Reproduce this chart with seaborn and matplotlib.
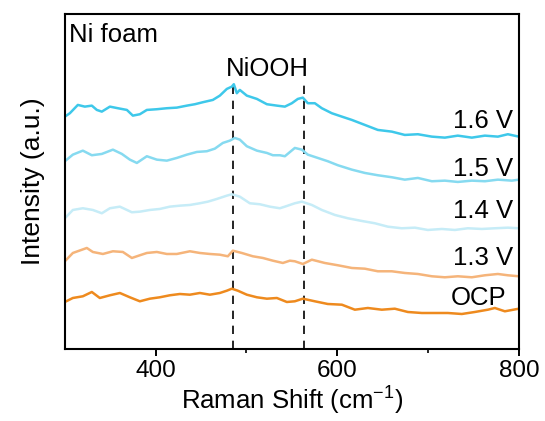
import matplotlib
matplotlib.use("Agg")
import matplotlib.pyplot as plt
import seaborn as sns
import pandas as pd

# ---- data (intensity in arbitrary units, already stacked) ----
x_16 = [300, 305.5, 314.3, 322, 329.7, 335.2, 340.7, 349.6, 358.4, 368.3, 374.9, 382.6, 390.3,
        401.3, 412.3, 423.3, 434.4, 443.2, 452, 463, 470.7, 478.4, 483.9, 486.1, 489.4, 492.7,
        500.4, 511.5, 522.5, 533.5, 542.3, 550, 556.6, 562.1, 567.6, 575.3, 583, 594, 605.1,
        616.1, 630.4, 644.7, 660.1, 674.4, 688.8, 704.2, 718.5, 732.8, 748.2, 762.6, 776.9,
        787.9, 800]
y_16 = [232.3, 235.7, 244, 242.3, 243.3, 239, 237.3, 242.3, 240.7, 239, 233.3, 234.7, 239,
        239.7, 240.7, 241.3, 243.3, 244.7, 246.7, 249, 253.3, 260, 262.3, 264.7, 255.7, 259,
        253.3, 250, 244.7, 243.3, 242.3, 245.7, 250, 251.3, 245.7, 245.7, 240.7, 235.7, 232.3,
        229, 224, 219, 217.3, 214, 214.7, 212.3, 211.3, 213.3, 211.3, 213.3, 212.3, 214.7, 212.3]

x_15 = [300, 308.8, 319.8, 329.7, 340.7, 352.9, 362.8, 371.6, 379.3, 390.3, 401.3, 412.3, 423.3,
        434.4, 445.4, 456.4, 465.2, 474, 481.7, 487.2, 492.7, 500.4, 511.5, 522.5, 529.1, 536.8,
        542.3, 553.3, 561, 567.6, 578.6, 589.6, 600.7, 616.1, 630.4, 644.7, 660.1, 674.4, 688.8,
        704.2, 718.5, 732.8, 748.2, 762.6, 776.9, 792.3, 800]
y_15 = [187.7, 194.3, 198.3, 193.7, 195, 199.3, 195, 189.3, 186, 192.7, 189.3, 188.3, 191,
        194.3, 197, 197.7, 200.3, 206, 208.3, 211, 209.3, 202.7, 198.3, 196, 193.7, 193.7,
        192.7, 201, 199.3, 194.3, 191, 187.7, 183.7, 179.3, 176, 173.7, 171.7, 169.3, 171,
        167.7, 168.3, 167, 168.3, 167.7, 169.3, 168.3, 169.3]

x_14 = [300, 308.8, 319.8, 330.8, 340.7, 349.6, 360.6, 373.8, 382.6, 393.6, 404.6, 415.6, 426.7,
        437.7, 448.7, 457.5, 467.4, 478.4, 483.9, 492.7, 503.7, 514.8, 525.8, 536.8, 542.3,
        553.3, 561, 572, 583, 597.4, 611.7, 627.1, 641.4, 655.7, 671.1, 685.5, 699.8, 715.2,
        729.5, 743.8, 759.3, 773.6, 787.9, 800]
y_14 = [130.7, 139, 140.7, 139, 135.7, 140.7, 142.3, 136.7, 137.3, 139, 140, 142.3, 143.3,
        144, 145.7, 147.3, 150, 153.3, 154.7, 152.3, 145.7, 144.7, 142.3, 140.7, 142.3,
        145.7, 147.3, 144, 139, 134, 130.7, 128, 125.7, 122.3, 120.7, 121.3, 119, 120,
        119, 120.7, 120, 120.7, 121.3, 120.7]

x_13 = [300, 308.8, 324.2, 330.8, 341.9, 352.9, 363.9, 373.8, 382.6, 390.3, 401.3, 412.3, 423.3,
        437.7, 448.7, 459.7, 470.7, 479.5, 485, 494.9, 507, 518.1, 529.1, 540.1, 547.8, 553.3,
        562.1, 572, 586.3, 600.7, 616.1, 630.4, 644.7, 660.1, 674.4, 688.8, 704.2, 718.5,
        732.8, 748.2, 762.6, 776.9, 787.9, 800]
y_13 = [87.7, 96, 101, 97, 95, 97.7, 97, 91, 93.7, 96, 97, 95, 95,
        97.7, 96, 95, 94.3, 92.7, 98.3, 96, 92.7, 91, 88.3, 86, 88.3, 87.7,
        85, 89.3, 86, 83.7, 81, 80.3, 77.7, 77.7, 76, 75, 72.7, 71.7,
        72.7, 71.7, 73.7, 75, 73.7, 72.7]

x_ocp = [300, 308.8, 319.8, 329.7, 338.5, 349.6, 360.6, 371.6, 382.6, 393.6, 404.6, 415.6,
         426.7, 437.7, 448.7, 459.7, 470.7, 478.4, 483.9, 490.5, 500.4, 511.5, 522.5, 533.5,
         544.5, 553.3, 562.1, 575.3, 589.6, 605.1, 619.4, 633.7, 649.1, 663.4, 677.8, 693.2,
         707.5, 721.8, 737.2, 751.5, 765.9, 773.6, 784.6, 800]
y_ocp = [47, 51, 52.7, 57, 51, 53.7, 56, 51.7, 47.7, 50.3, 51.7, 53.7,
         55, 54.3, 56, 54.3, 56, 58.3, 60.3, 58.3, 54.3, 51.7, 50.3, 51,
         47, 47.7, 50.3, 47.7, 45, 44.3, 39.3, 41, 39.3, 40.3, 37, 36,
         36, 36, 35, 37, 39.3, 41, 37.7, 40.3]

series_labels = ["OCP", "1.3 V", "1.4 V", "1.5 V", "1.6 V"]
series_colors = ["#EE8A1E", "#F5B47A", "#C6ECF7", "#86DAF0", "#3EC8EA"]
peak_positions = [485, 563]
peak_label = "NiOOH"
sample_label = "Ni foam"

xs = [x_ocp, x_13, x_14, x_15, x_16]
ys = [y_ocp, y_13, y_14, y_15, y_16]
frames = []
for lab, xx, yy in zip(series_labels, xs, ys):
    frames.append(pd.DataFrame({"shift": xx, "intensity": yy, "series": lab}))
df = pd.concat(frames, ignore_index=True)

# ---- style ----
sns.set_style("ticks")
plt.rcParams["font.family"] = ["Liberation Sans", "DejaVu Sans"]
plt.rcParams["mathtext.default"] = "regular"
plt.rcParams["axes.unicode_minus"] = False
for key in ["text.color", "axes.labelcolor", "xtick.color", "ytick.color", "axes.edgecolor"]:
    plt.rcParams[key] = "black"

fig = plt.figure(figsize=(5.45, 4.21), dpi=100)
ax = fig.add_axes([0.119, 0.171, 0.833, 0.796])

sns.lineplot(data=df, x="shift", y="intensity", hue="series", hue_order=series_labels,
             palette=dict(zip(series_labels, series_colors)), sort=False,
             estimator=None, linewidth=1.8, legend=False, ax=ax)

for p in peak_positions:
    ax.plot([p, p], [0, 266], color="black", linestyle=(0, (5, 4)), linewidth=1.2, zorder=1)

ax.set_xlim(300, 800)
ax.set_ylim(0, 335)
ax.set_xticks([400, 600, 800])
ax.set_xticks([500, 700], minor=True)
ax.set_yticks([])
ax.tick_params(axis="x", which="major", direction="out", length=5, width=1.4, labelsize=17.5, pad=3)
ax.tick_params(axis="x", which="minor", direction="out", length=3, width=1.2)
for s in ax.spines.values():
    s.set_linewidth(1.5)
    s.set_color("black")

ax.set_xlabel("Raman Shift (cm$^{-1}$)", fontsize=18.5, labelpad=2)
ax.set_ylabel("Intensity (a.u.)", fontsize=19, labelpad=14)

ax.text(304.8, 307, sample_label, fontsize=18.5, ha="left", va="baseline")
ax.text(522.5, 273, peak_label, fontsize=18.5, ha="center", va="baseline")

label_pos = {"1.6 V": (793.4, 221), "1.5 V": (793.4, 173), "1.4 V": (793.4, 131),
             "1.3 V": (793.4, 84), "OCP": (786.8, 44)}
for lab in series_labels:
    xx, yy = label_pos[lab]
    ax.text(xx, yy, lab, fontsize=18.5, ha="right", va="baseline")

fig.savefig("out.png", dpi=100)
